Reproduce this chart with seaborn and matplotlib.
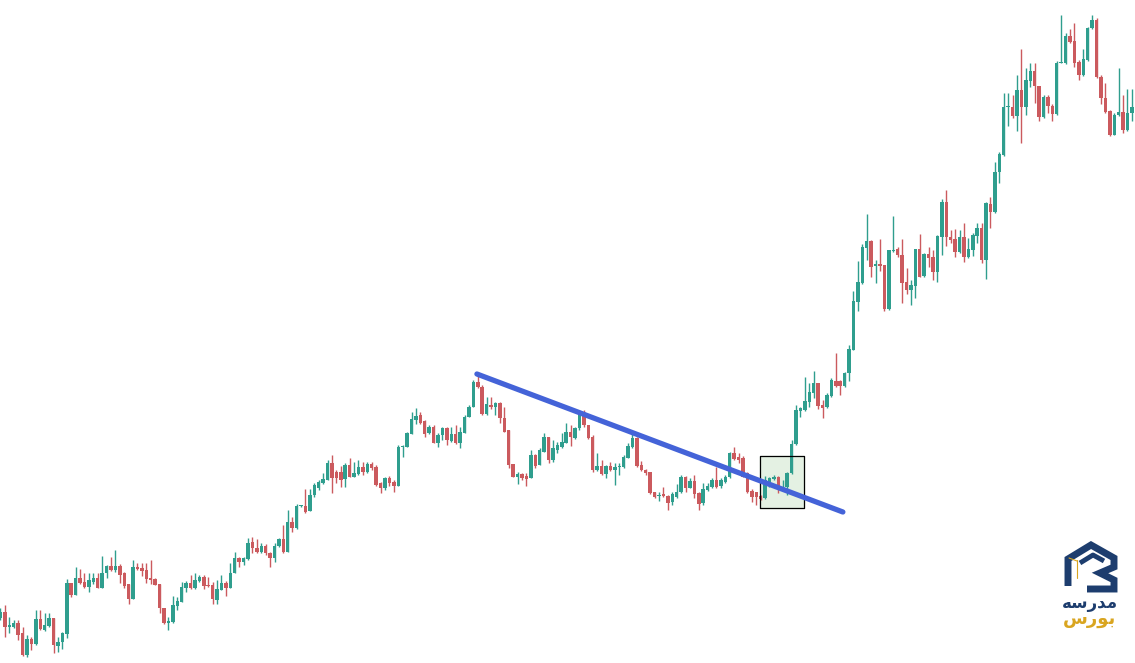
import numpy as np
import pandas as pd
import matplotlib
matplotlib.use("Agg")
import matplotlib.pyplot as plt
import seaborn as sns

# candle values (arbitrary price units)
opens = [45, 51, 36, 36, 40, 30, 8, 24, 19, 44, 33, 37, 45, 17, 21, 29, 80, 68, 85, 81,
         76, 81, 85, 75, 90, 97, 93, 97, 90, 79, 64, 96, 95, 93, 85, 84, 79, 55, 40, 41,
         57, 61, 75, 80, 75, 82, 86, 78, 78, 63, 73, 80, 75, 90, 105, 101, 104, 121, 115, 111,
         117, 110, 105, 117, 124, 111, 141, 135, 157, 157, 152, 168, 175, 180, 183, 200, 191, 191, 184, 198,
         186, 189, 196, 191, 199, 196, 180, 175, 185, 181, 177, 216, 216, 229, 243, 248, 242, 230, 236, 220,
         228, 235, 222, 229, 220, 230, 246, 256, 281, 276, 249, 258, 256, 260, 245, 233, 199, 186, 189, 187,
         185, 208, 198, 211, 226, 203, 213, 216, 220, 231, 225, 235, 250, 238, 226, 193, 197, 189, 197, 193,
         196, 196, 205, 216, 225, 198, 193, 191, 171, 167, 169, 167, 161, 166, 171, 186, 175, 182, 170, 160,
         173, 176, 183, 177, 181, 186, 210, 206, 205, 190, 172, 171, 167, 165, 181, 184, 186, 175, 176, 190,
         219, 252, 253, 261, 270, 280, 258, 256, 267, 282, 282, 277, 290, 313, 361, 380, 415, 422, 397, 399,
         398, 354, 412, 414, 408, 381, 373, 377, 414, 387, 409, 406, 391, 426, 461, 426, 424, 411, 426, 406,
         413, 427, 435, 403, 459, 451, 491, 508, 556, 556, 547, 573, 556, 582, 592, 577, 546, 566, 557, 549,
         600, 600, 627, 622, 601, 588, 603, 635, 643, 586, 565, 552, 528, 548, 551, 533, 550]
highs = [55, 58, 46, 43, 43, 36, 28, 26, 53, 53, 50, 50, 45, 26, 31, 84, 80, 96, 94, 90,
         90, 90, 90, 107, 98, 106, 113, 99, 91, 79, 103, 100, 100, 100, 103, 85, 79, 55, 46, 67,
         66, 81, 82, 88, 90, 88, 88, 86, 81, 83, 88, 82, 100, 111, 106, 106, 125, 126, 124, 120,
         119, 111, 120, 125, 138, 153, 146, 159, 158, 174, 174, 180, 183, 190, 203, 208, 193, 197, 200, 205,
         201, 203, 201, 201, 201, 198, 181, 186, 187, 183, 218, 218, 231, 251, 255, 251, 243, 238, 238, 230,
         236, 236, 236, 238, 236, 248, 258, 283, 290, 278, 266, 266, 261, 261, 256, 233, 199, 191, 190, 190,
         213, 209, 215, 230, 226, 223, 221, 230, 240, 238, 236, 253, 253, 238, 228, 210, 203, 198, 201, 200,
         200, 208, 220, 229, 226, 202, 194, 191, 171, 171, 176, 168, 171, 179, 188, 187, 185, 188, 171, 180,
         180, 185, 196, 185, 188, 211, 216, 210, 207, 191, 174, 171, 168, 187, 186, 188, 187, 183, 191, 223,
         258, 256, 286, 280, 292, 280, 263, 270, 285, 310, 283, 291, 318, 372, 402, 419, 449, 423, 403, 424,
         398, 413, 447, 416, 424, 395, 383, 414, 429, 410, 416, 413, 428, 464, 473, 433, 434, 433, 440, 425,
         430, 440, 440, 461, 466, 501, 511, 570, 570, 568, 588, 614, 595, 600, 600, 577, 568, 568, 559, 602,
         648, 630, 634, 640, 603, 614, 636, 648, 645, 588, 580, 553, 550, 595, 568, 574, 574]
lows = [43, 26, 30, 35, 23, 7, 6, 13, 18, 33, 32, 36, 10, 11, 14, 25, 66, 68, 79, 75,
        71, 79, 75, 75, 85, 92, 91, 80, 75, 59, 64, 93, 87, 80, 79, 78, 50, 39, 33, 40,
        53, 61, 71, 74, 74, 81, 74, 76, 59, 59, 73, 67, 75, 90, 96, 98, 103, 110, 110, 110,
        108, 96, 101, 116, 110, 111, 131, 134, 156, 150, 152, 166, 173, 179, 183, 170, 180, 176, 176, 186,
        186, 188, 188, 190, 193, 177, 170, 173, 177, 171, 177, 206, 216, 229, 239, 239, 226, 229, 220, 216,
        223, 218, 221, 219, 215, 230, 246, 256, 275, 248, 248, 254, 248, 240, 231, 195, 186, 179, 183, 177,
        185, 195, 198, 211, 200, 201, 210, 215, 220, 217, 224, 233, 236, 224, 191, 192, 188, 185, 192, 178,
        188, 195, 205, 215, 196, 192, 188, 169, 165, 162, 166, 153, 158, 165, 170, 171, 175, 165, 153, 158,
        172, 175, 175, 175, 180, 185, 203, 200, 186, 170, 161, 158, 163, 164, 176, 183, 170, 173, 168, 189,
        218, 246, 252, 256, 265, 254, 245, 255, 266, 276, 268, 276, 282, 313, 352, 379, 403, 386, 380, 392,
        352, 353, 411, 406, 360, 369, 358, 365, 386, 386, 396, 383, 381, 408, 417, 420, 406, 410, 401, 405,
        407, 420, 400, 384, 435, 450, 480, 507, 537, 545, 532, 520, 548, 576, 560, 542, 545, 550, 542, 548,
        600, 599, 620, 596, 583, 587, 602, 634, 585, 559, 550, 527, 528, 547, 530, 532, 542]
closes = [51, 36, 38, 40, 28, 8, 24, 19, 44, 34, 38, 45, 18, 21, 30, 80, 68, 85, 80, 76,
          83, 85, 75, 90, 97, 93, 97, 88, 77, 64, 96, 94, 92, 84, 83, 78, 55, 40, 42, 58,
          62, 76, 80, 75, 83, 86, 77, 77, 64, 74, 80, 75, 90, 105, 101, 105, 120, 115, 111, 117,
          110, 105, 117, 124, 111, 141, 135, 157, 158, 151, 168, 178, 181, 184, 200, 185, 185, 183, 198, 186,
          190, 196, 191, 199, 195, 178, 175, 185, 180, 177, 216, 217, 230, 244, 247, 240, 229, 236, 220, 228,
          235, 223, 229, 220, 231, 246, 256, 281, 276, 249, 259, 256, 260, 245, 231, 198, 186, 189, 185, 184,
          208, 197, 213, 226, 203, 215, 218, 221, 231, 226, 235, 249, 238, 225, 193, 197, 189, 197, 193, 196,
          197, 206, 217, 225, 197, 193, 190, 170, 166, 168, 167, 160, 169, 171, 186, 175, 182, 169, 159, 174,
          177, 183, 176, 183, 186, 210, 204, 203, 186, 171, 166, 166, 164, 183, 185, 186, 173, 176, 190, 219,
          253, 255, 262, 271, 280, 257, 255, 268, 283, 277, 277, 290, 314, 362, 381, 416, 422, 396, 399, 397,
          354, 413, 413, 408, 380, 373, 378, 414, 386, 409, 405, 391, 427, 461, 426, 423, 411, 426, 406, 414,
          428, 435, 403, 460, 451, 491, 509, 556, 557, 547, 573, 556, 583, 592, 577, 546, 566, 557, 549, 600,
          601, 627, 621, 600, 588, 604, 635, 643, 586, 565, 551, 528, 548, 551, 533, 550, 556]

# trend line and highlighted breakout zone
trend_x = [107.8, 190.6]
trend_y = [289, 151]
zone_x = [171.9, 181.8]
zone_y = [155, 207.5]

df = pd.DataFrame({"open": opens, "high": highs, "low": lows, "close": closes})
df["i"] = np.arange(len(df))
df["up"] = df["close"] >= df["open"]
green = "#2f9e8e"
red = "#cb5a5e"
df["color"] = np.where(df["up"], green, red)

sns.set_theme(style="white")
fig = plt.figure(figsize=(11.35, 6.63), dpi=100)
ax = fig.add_axes([0, 0, 1, 1])

# zone box
ax.fill_between(zone_x, zone_y[0], zone_y[1], color="#e4f1e3", zorder=1)
ax.plot([zone_x[0], zone_x[1], zone_x[1], zone_x[0], zone_x[0]],
        [zone_y[0], zone_y[0], zone_y[1], zone_y[1], zone_y[0]], color="black", lw=0.9, zorder=4)

# wicks and bodies
ax.vlines(df["i"], df["low"], df["high"], colors=df["color"], lw=1.0, zorder=2)
body_lo = df[["open", "close"]].min(axis=1)
body_h = (df["close"] - df["open"]).abs().clip(lower=1.5)
ax.bar(df["i"], body_h, bottom=body_lo, width=0.78, color=df["color"], linewidth=0, zorder=3)

# trend line
sns.lineplot(x=trend_x, y=trend_y, ax=ax, color="#4463d8", lw=3.8, zorder=5)

ax.set_xlim(-0.11, 256.7)
ax.set_ylim(0, 663)
ax.axis("off")

# logo (pixel coordinates)
lg = fig.add_axes([0, 0, 1, 1])
lg.set_xlim(0, 1135)
lg.set_ylim(663, 0)
lg.axis("off")
navy = "#1d3d6e"
lg.plot([1068, 1068, 1091, 1114, 1114, 1100, 1114, 1114, 1087],
        [586, 559, 545, 558, 567, 573, 580, 589, 589],
        color=navy, lw=5, solid_joinstyle="miter", solid_capstyle="butt")
lg.plot([1080, 1093, 1104], [563, 555, 561], color=navy, lw=3.5, solid_capstyle="butt")
lg.plot([1076.5, 1076.5], [560, 578], color="#d9a520", lw=0.8)
lg.plot([1069, 1077], [558, 561], color="#d9a520", lw=0.8)
lg.text(1090, 603, "\ufeea\ufeb3\ufead\ufeaa\ufee3", color=navy, fontsize=12, fontweight="bold",
        ha="center", va="center", family=["DejaVu Sans"])
lg.text(1089, 619, "\ufeb1\ufead\ufeee\ufe91", color="#d9a520", fontsize=13, fontweight="bold",
        ha="center", va="center", family=["DejaVu Sans"])

fig.savefig("out.png", dpi=100, facecolor="white")
